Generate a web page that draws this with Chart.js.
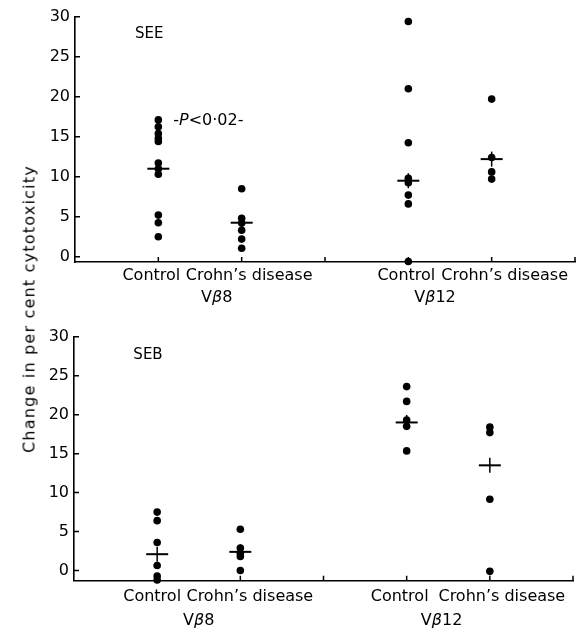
<!DOCTYPE html>
<html>
<head>
<meta charset="utf-8">
<script src="https://cdn.jsdelivr.net/npm/chart.js@4.4.1/dist/chart.umd.min.js"></script>
<style>
  html, body { margin: 0; padding: 0; background: #fff; }
  #wrap { position: relative; width: 576px; height: 633px; }
  canvas { position: absolute; left: 0; }
  #see { top: 0; }
  #seb { top: 310px; }
  #ytitle { position: absolute; left: 29px; top: 309px; transform: translate(-50%, -50%) rotate(-90deg);
            white-space: nowrap; font: 16px "DejaVu Sans", sans-serif; letter-spacing: 1.2px; color: #000; }
</style>
</head>
<body>
<div id="wrap">
  <canvas id="see" width="576" height="310"></canvas>
  <canvas id="seb" width="576" height="323"></canvas>
  <div id="ytitle">Change in per cent cytotoxicity</div>
</div>
<script>
"use strict";

// group positions on the x axis (3 is the unlabelled divider tick, 6 the right end)
const GROUP_X = [1, 2, 4, 5];
const GROUP_NAMES = ['Control', "Crohn\u2019s disease", 'Control', "Crohn\u2019s disease"];
const RECEPTORS = [[['V', false], ['\u03b2', true], ['8', false]],
                   [['V', false], ['\u03b2', true], ['12', false]]];
const X_TICKS = [1, 2, 3, 4, 5, 6];
const Y_TICKS = [0, 5, 10, 15, 20, 25, 30];

// SEE panel, % change in cytotoxicity
const SEE_VB8_CONTROL = [17.1, 16.25, 15.4, 14.8, 14.4, 11.7, 11.0, 10.3, 5.2, 4.25, 2.5];
const SEE_VB8_CROHN = [8.5, 4.8, 4.2, 3.3, 2.2, 1.05];
const SEE_VB12_CONTROL = [29.4, 21.0, 14.25, 9.8, 9.25, 7.7, 6.6, -0.6];
const SEE_VB12_CROHN = [19.7, 12.4, 10.6, 9.7];
const SEE_MEANS = [11.0, 4.25, 9.5, 12.2];

// SEB panel
const SEB_VB8_CONTROL = [7.5, 6.4, 3.6, 0.65, -0.7, -1.2];
const SEB_VB8_CROHN = [5.3, 2.9, 2.2, 1.8, 0];
const SEB_VB12_CONTROL = [23.6, 21.7, 19.3, 18.5, 15.35];
const SEB_VB12_CROHN = [18.4, 17.7, 9.15, -0.1];
const SEB_MEANS = [2.1, 2.4, 19.0, 13.5];

const INK = '#000';
const FONT = '"DejaVu Sans", sans-serif';

function drawParts(ctx, parts, cx, cy, size) {
  const fonts = parts.map(([, it]) => (it ? 'italic ' : '') + size + 'px ' + FONT);
  const widths = parts.map(([t], i) => { ctx.font = fonts[i]; return ctx.measureText(t).width; });
  let px = cx - widths.reduce((a, b) => a + b, 0) / 2;
  ctx.textAlign = 'left';
  parts.forEach(([t], i) => { ctx.font = fonts[i]; ctx.fillText(t, px, cy); px += widths[i]; });
}

// inward tick marks, group labels and panel annotations
const decor = {
  id: 'decor',
  afterDraw(chart, args, o) {
    const {ctx, chartArea: a, scales: {x, y}} = chart;
    ctx.save();
    ctx.strokeStyle = INK;
    ctx.lineWidth = 1.5;
    ctx.beginPath();
    Y_TICKS.forEach(v => { const py = y.getPixelForValue(v); ctx.moveTo(a.left, py); ctx.lineTo(a.left + 5, py); });
    X_TICKS.forEach(v => { const px = x.getPixelForValue(v); ctx.moveTo(px, a.bottom); ctx.lineTo(px, a.bottom - 5); });
    ctx.stroke();

    ctx.fillStyle = INK;
    ctx.textBaseline = 'middle';
    ctx.textAlign = 'center';
    ctx.font = '16px ' + FONT;
    GROUP_X.forEach((v, i) =>
      ctx.fillText(GROUP_NAMES[i], x.getPixelForValue(v) + o.nameDx[i], a.bottom + o.nameDy));
    RECEPTORS.forEach((parts, i) =>
      drawParts(ctx, parts, x.getPixelForValue(o.recX[i]), a.bottom + o.recDy, 16));

    ctx.textAlign = 'center';
    ctx.font = '15px ' + FONT;
    ctx.fillText(o.label, x.getPixelForValue(o.labelAt[0]), y.getPixelForValue(o.labelAt[1]));
    if (o.pAt) {
      drawParts(ctx, [['-', false], ['P', true], ['<0\u00b702-', false]],
        x.getPixelForValue(o.pAt[0]), y.getPixelForValue(o.pAt[1]), 16);
    }
    ctx.restore();
  }
};

const groupPoints = groups => groups.flatMap((vals, i) => vals.map(v => ({x: GROUP_X[i], y: v})));
const meanPoints = means => means.map((v, i) => ({x: GROUP_X[i], y: v}));

function mkChart(id, groups, means, cfg) {
  return new Chart(document.getElementById(id), {
    type: 'scatter',
    data: {datasets: [
      {data: groupPoints(groups), pointStyle: 'circle', pointRadius: 3.8, backgroundColor: INK,
       borderWidth: 0, clip: false},
      {data: meanPoints(means), pointStyle: 'line', pointRadius: 11, borderColor: INK,
       borderWidth: 2, clip: false},
      {data: meanPoints(means), pointStyle: 'line', rotation: 90, pointRadius: 7.5, borderColor: INK,
       borderWidth: 1.5, clip: false},
    ]},
    options: {
      responsive: false, animation: false, events: [],
      layout: {padding: cfg.padding, autoPadding: false},
      plugins: {legend: {display: false}, tooltip: {enabled: false}, decor: cfg.decor},
      scales: {
        x: {type: 'linear', min: 0, max: 6,
            afterBuildTicks: s => { s.ticks = X_TICKS.map(v => ({value: v})); },
            afterFit: s => { s.height = cfg.xHeight; },
            grid: {display: false, drawTicks: false},
            border: {display: true, color: INK, width: 1.6},
            ticks: {display: false}},
        y: {type: 'linear', min: cfg.yMin, max: 30,
            afterBuildTicks: s => { s.ticks = Y_TICKS.map(v => ({value: v})); },
            afterFit: s => { s.width = cfg.yWidth; },
            grid: {display: false, drawTicks: false},
            border: {display: true, color: INK, width: 1.6},
            ticks: {padding: 5, color: INK, font: {family: FONT, size: 16}}}
      }
    },
    plugins: [decor]
  });
}

mkChart('see', [SEE_VB8_CONTROL, SEE_VB8_CROHN, SEE_VB12_CONTROL, SEE_VB12_CROHN], SEE_MEANS, {
  yMin: -0.66, padding: {top: 16.7, right: 1, left: 0, bottom: 0}, yWidth: 75, xHeight: 48,
  decor: {nameDx: [-7, 7.5, -2, 13], nameDy: 14, recX: [1.7, 4.32], recDy: 36,
          label: 'SEE', labelAt: [0.89, 27.8], pAt: [1.6, 17]}
});

mkChart('seb', [SEB_VB8_CONTROL, SEB_VB8_CROHN, SEB_VB12_CONTROL, SEB_VB12_CROHN], SEB_MEANS, {
  yMin: -1.3, padding: {top: 26.7, right: 3, left: 0, bottom: 0}, yWidth: 74, xHeight: 52.3,
  decor: {nameDx: [-5, 9.5, -7, 12], nameDy: 16, recX: [1.5, 4.42], recDy: 40,
          label: 'SEB', labelAt: [0.89, 27.65]}
});
</script>
</body>
</html>
